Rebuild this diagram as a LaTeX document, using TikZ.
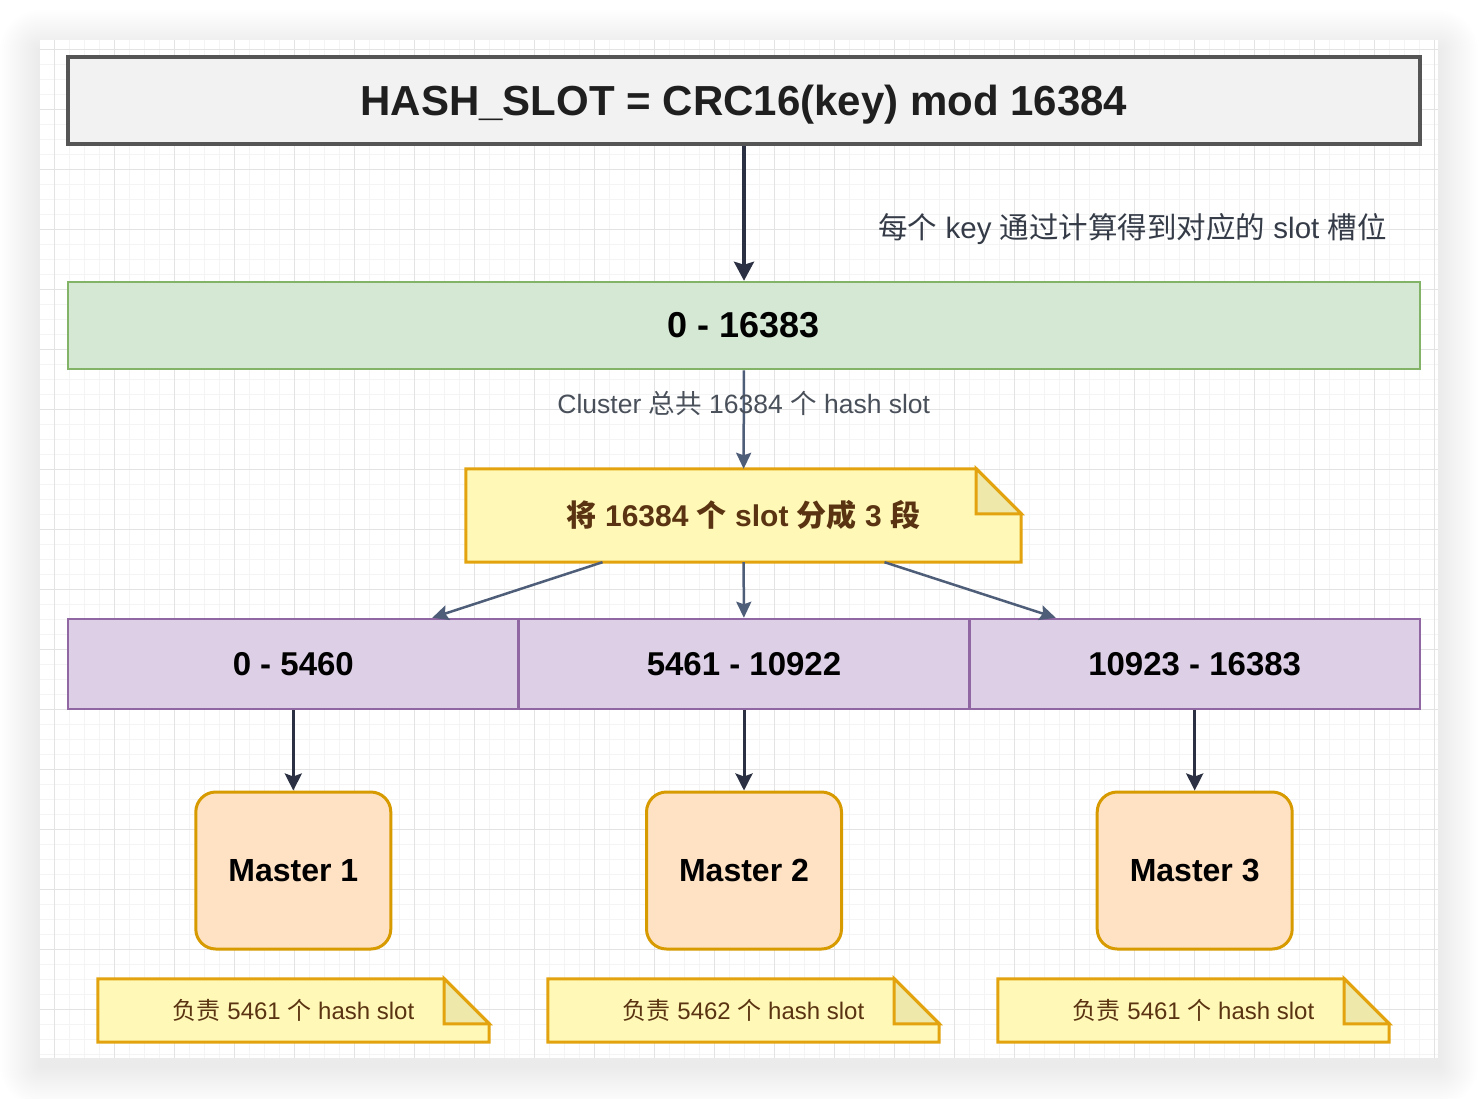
\documentclass[tikz,border=0pt]{standalone}
\usepackage{fontspec}
\setmainfont{Liberation Sans}
\newfontfamily\cjk{Noto Sans CJK SC}
\usepackage{xcolor}
\usepackage{tikz}
\usetikzlibrary{arrows.meta,positioning,calc}

\definecolor{titlefill}{HTML}{F2F2F2}
\definecolor{titleline}{HTML}{555555}
\definecolor{greenfill}{HTML}{D5E8D4}
\definecolor{greenline}{HTML}{82B366}
\definecolor{purplefill}{HTML}{DDD0E6}
\definecolor{purpleline}{HTML}{9066A3}
\definecolor{masterfill}{HTML}{FFE1C4}
\definecolor{masterline}{HTML}{D79B00}
\definecolor{notefill}{HTML}{FFF8B6}
\definecolor{noteline}{HTML}{E3A30E}
\definecolor{foldfill}{HTML}{EEE8AA}
\definecolor{notetext}{HTML}{5A3412}
\definecolor{darkarrow}{HTML}{2B3142}
\definecolor{slatearrow}{HTML}{4E5D78}
\definecolor{labeltext}{HTML}{353C48}
\definecolor{gridmajor}{HTML}{E3E3E3}
\definecolor{gridminor}{HTML}{F4F4F4}

\newcommand\zh[1]{{\cjk #1}}
\newcommand\fs[1]{\fontsize{#1}{#1}\selectfont}

\pgfdeclarelayer{paper}
\pgfdeclarelayer{back}
\pgfsetlayers{paper,back,main}

% note outline with folded corner, drawn from the node's anchors
\newcommand\notefold[2]{%
  \draw[notedraw,fill=notefill] (#1.north west) -- ([xshift=-#2]#1.north east) -- ([yshift=-#2]#1.north east) -- (#1.south east) -- (#1.south west) -- cycle;
  \draw[notedraw,fill=foldfill] ([xshift=-#2]#1.north east) -- ([xshift=-#2,yshift=-#2]#1.north east) -- ([yshift=-#2]#1.north east) -- cycle;
}

\begin{document}
\begin{tikzpicture}[x=1pt, y=-1pt, >=Stealth, every node/.style={font=\fs{24}},
rangebox/.style={rectangle,draw,line width=2.5pt,inner sep=0pt,minimum height=88pt,font=\fs{33}\bfseries},
masterbox/.style={rectangle,draw=masterline,fill=masterfill,line width=3pt,rounded corners=20pt,minimum width=195pt,minimum height=157pt,font=\fs{32}\bfseries,text depth=0pt,text height=21pt},
notebox/.style={rectangle,inner sep=0pt,text=notetext},
notedraw/.style={draw=noteline,line width=3pt,line join=miter},
heavy/.style={->,draw=darkarrow,line width=3.5pt,-{Stealth[length=19pt,width=20pt,inset=3pt]}},
link/.style={draw=slatearrow,line width=2.5pt,-{Stealth[length=16pt,width=15pt,inset=2.5pt]}},
drop/.style={draw=darkarrow,line width=3pt,-{Stealth[length=17pt,width=17pt,inset=3pt]}}]
\useasboundingbox (0,0) rectangle (1478,1098);

% paper with shadow and grid
\begin{pgfonlayer}{paper}
\fill[white] (0,0) rectangle (1478,1098);
\foreach \i in {1,...,20}
  \fill[black,opacity=0.0045,rounded corners=2*\i pt] (40-2*\i,50-2*\i) rectangle (1438+2*\i,1066+2*\i);
\fill[white] (40,40) rectangle (1438,1058);
\begin{scope}
\clip (40,40) rectangle (1438,1058);
\foreach \x in {39.3,54.3,...,1440} \draw[gridminor,line width=1.2pt] (\x,40) -- (\x,1058);
\foreach \y in {34.3,49.3,...,1060} \draw[gridminor,line width=1.2pt] (40,\y) -- (1438,\y);
\foreach \x in {54.3,114.3,...,1440} \draw[gridmajor,line width=1pt] (\x,40) -- (\x,1058);
\foreach \y in {49.3,109.3,...,1060} \draw[gridmajor,line width=1pt] (40,\y) -- (1438,\y);
\end{scope}
\end{pgfonlayer}

\node[rectangle,draw=titleline,fill=titlefill,line width=4.5pt,minimum width=1352pt,minimum height=87pt,inner sep=0pt,text=black!88,font=\fs{42}\bfseries,text depth=0pt,text height=30pt] (title) at (744,100.5) {HASH\_SLOT = CRC16(key) mod 16384};
\node[rangebox,draw=greenline,fill=greenfill,minimum width=1352pt,minimum height=87pt,font=\fs{36}\bfseries] (range) at (744,325.5) {0 - 16383};
\node[text=labeltext,font=\fs{29.5}] (keylabel) at (1132.5,229.5) {\zh{每个} key \zh{通过计算得到对应的} slot \zh{槽位}};
\draw[heavy] (title) -- (range);

\node[notebox,minimum width=555pt,minimum height=93pt,font=\fs{30}\bfseries] (split) at (743.5,515.5) {\zh{将} 16384 \zh{个} slot \zh{分成} 3 \zh{段}};
\draw[link] (range) -- node[pos=.34,text=labeltext!90,font=\fs{26.5}] {Cluster \zh{总共} 16384 \zh{个} hash slot} (split);

\node[rangebox,draw=purpleline,fill=purplefill,minimum width=450.7pt,minimum height=90pt] (p1) at (293.3,664) {0 - 5460};
\node[rangebox,draw=purpleline,fill=purplefill,minimum width=450.7pt,minimum height=90pt] (p2) at (744,664) {5461 - 10922};
\node[rangebox,draw=purpleline,fill=purplefill,minimum width=450.7pt,minimum height=90pt] (p3) at (1194.7,664) {10923 - 16383};
\draw[link] ([xshift=-141pt]split.south) -- ([xshift=139pt]p1.north);
\draw[link] (split) -- (p2);
\draw[link] ([xshift=141pt]split.south) -- ([xshift=-139pt]p3.north);

\node[masterbox] (m1) at (293.3,870.5) {Master 1};
\node[masterbox] (m2) at (744,870.5) {Master 2};
\node[masterbox] (m3) at (1194.7,870.5) {Master 3};
\foreach \i in {1,2,3} \draw[drop] (p\i) -- (m\i);

\node[notebox,minimum width=391pt,minimum height=63pt] (n1) at (293.5,1010.5) {\zh{负责} 5461 \zh{个} hash slot};
\node[notebox,minimum width=391pt,minimum height=63pt] (n2) at (743.5,1010.5) {\zh{负责} 5462 \zh{个} hash slot};
\node[notebox,minimum width=391pt,minimum height=63pt] (n3) at (1193.5,1010.5) {\zh{负责} 5461 \zh{个} hash slot};

\begin{pgfonlayer}{back}
\notefold{split}{45pt}
\foreach \i in {1,2,3} {\notefold{n\i}{45pt}}
\end{pgfonlayer}
\end{tikzpicture}
\end{document}
